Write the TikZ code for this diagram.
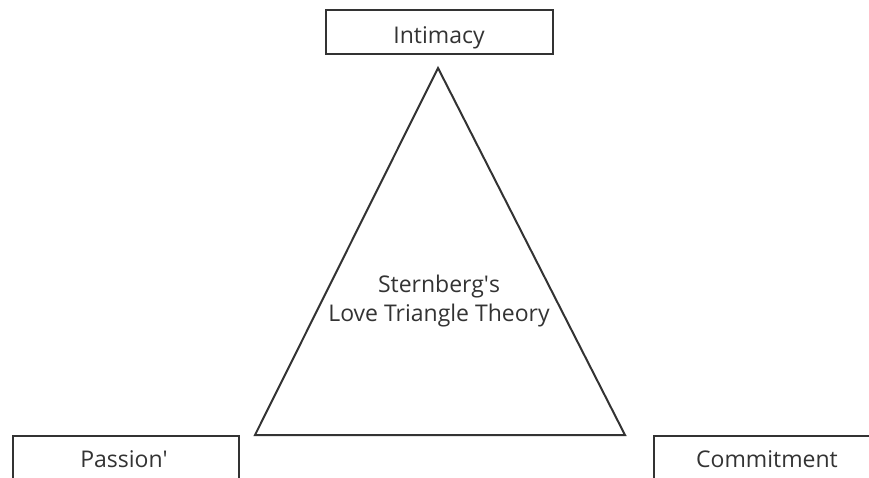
\documentclass[tikz,border=0pt]{standalone}
\usepackage{fontspec}
\setmainfont{Open Sans}
\definecolor{ink}{HTML}{333333}
\begin{document}
\begin{tikzpicture}[x=1pt,y=-1pt,
  txt/.style={text=ink,font=\fontsize{23}{29}\selectfont,inner sep=0pt},
  lbl/.style={draw=ink,line width=2pt,rectangle,inner sep=0pt},
  tri/.style={draw=ink,line width=2pt,line join=miter}]
\useasboundingbox (0,0) rectangle (869,477);
\clip (0,0) rectangle (869,477);
\node[lbl,minimum width=227pt,minimum height=44pt] (intimacy) at (439,32) {};
\node[txt,anchor=base] (itext) at (439,43) {Intimacy};
\node[lbl,minimum width=226pt,minimum height=56pt,anchor=north west] (passion) at (12,435) {};
\node[txt,anchor=base] (ptext) at (124,467) {Passion\textquotesingle};
\node[lbl,minimum width=226pt,minimum height=56pt,anchor=north west] (commit) at (653,435) {};
\node[txt,anchor=base] (ctext) at (767,467) {Commitment};
\coordinate (apex) at (438,68);
\coordinate (bl) at (255,435);
\coordinate (br) at (625,435);
\draw[tri] (apex) -- (bl) -- (br) -- cycle;
\node[txt,align=center] (title) at (439,301) {Sternberg\textquotesingle s\\Love Triangle Theory};
\end{tikzpicture}
\end{document}
